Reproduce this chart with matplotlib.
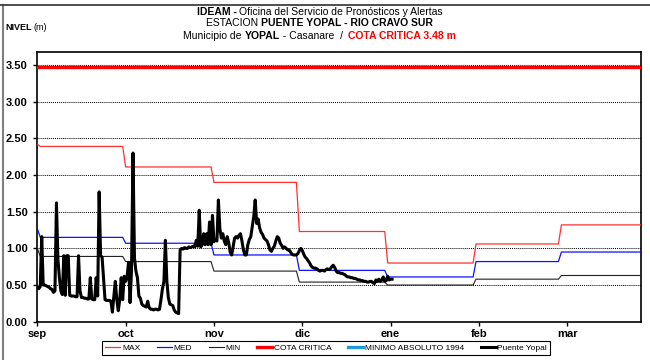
import numpy as np
import matplotlib
matplotlib.use('Agg')
import matplotlib.pyplot as plt
from matplotlib.lines import Line2D

plt.rcParams['font.family'] = ['Liberation Sans', 'DejaVu Sans']

# eje x: marcas cada 30 dias contados desde el 1 de septiembre
meses = ['sep', 'oct', 'nov', 'dic', 'ene', 'feb', 'mar']
dias_por_marca = 30
dias_total = 205

# niveles de referencia: dia en que empieza cada tramo y su valor (m)
inicio_tramo = [0, 1, 30, 60, 89, 119, 149, 178]
nivel_max = [2.42, 2.39, 2.11, 1.90, 1.23, 0.80, 1.06, 1.32]
nivel_med = [1.27, 1.15, 1.07, 0.91, 0.70, 0.61, 0.82, 0.95]
nivel_min = [1.00, 0.89, 0.82, 0.69, 0.54, 0.50, 0.58, 0.63]
cota_critica = 3.48

# lecturas de la estacion Puente Yopal, dos por dia desde el 1 de septiembre
lecturas_por_dia = 2
nivel_yopal = [
    0.47, 0.45, 0.48, 1.16, 0.50, 0.50, 0.49, 0.48, 0.47, 0.45,
    0.44, 0.40, 0.42, 1.62, 0.85, 0.60, 0.42, 0.37, 0.90, 0.36,
    0.90, 0.90, 0.36, 0.35, 0.35, 0.35, 0.34, 0.34, 0.90, 0.42,
    0.33, 0.33, 0.32, 0.32, 0.31, 0.31, 0.60, 0.31, 0.30, 0.30,
    0.60, 0.35, 1.77, 0.90, 0.88, 0.60, 0.30, 0.29, 0.29, 0.29,
    0.28, 0.13, 0.35, 0.55, 0.30, 0.15, 0.30, 0.60, 0.30, 0.62,
    0.55, 0.62, 0.81, 0.26, 0.70, 2.30, 0.87, 0.69, 0.60, 0.35,
    0.32, 0.24, 0.22, 0.21, 0.20, 0.28, 0.19, 0.17, 0.17, 0.16,
    0.17, 0.17, 0.16, 0.17, 0.30, 0.45, 0.55, 1.11, 0.55, 0.33,
    0.24, 0.23, 0.22, 0.16, 0.13, 0.12, 0.11, 0.98, 1.00, 0.99,
    1.01, 1.00, 1.00, 1.02, 1.01, 1.02, 1.03, 1.02, 1.11, 1.03,
    1.52, 1.02, 1.05, 1.20, 1.05, 1.20, 1.05, 1.36, 1.05, 1.45,
    1.09, 1.12, 1.10, 1.66, 1.27, 1.14, 1.20, 1.10, 1.05, 1.16,
    1.08, 0.95, 0.91, 1.02, 1.14, 1.16, 1.14, 1.18, 1.20, 1.10,
    0.98, 0.91, 0.91, 1.05, 1.12, 1.16, 1.30, 1.43, 1.66, 1.34,
    1.40, 1.28, 1.22, 1.19, 1.14, 1.12, 1.10, 1.05, 0.98, 0.96,
    1.00, 1.03, 1.10, 1.16, 1.14, 1.07, 1.04, 1.00, 1.02, 1.00,
    0.98, 0.98, 0.95, 0.92, 0.91, 0.91, 0.91, 0.93, 0.97, 1.00,
    0.97, 0.92, 0.88, 0.86, 0.83, 0.80, 0.76, 0.74, 0.73, 0.73,
    0.72, 0.70, 0.69, 0.70, 0.70, 0.69, 0.71, 0.72, 0.71, 0.72,
    0.75, 0.77, 0.74, 0.69, 0.67, 0.67, 0.66, 0.66, 0.65, 0.64,
    0.62, 0.61, 0.61, 0.60, 0.60, 0.59, 0.59, 0.58, 0.57, 0.57,
    0.56, 0.56, 0.55, 0.55, 0.54, 0.54, 0.55, 0.55, 0.53, 0.52,
    0.57, 0.55, 0.58, 0.55, 0.57, 0.61, 0.55, 0.56, 0.62, 0.57,
    0.58, 0.58,
]


def serie_escalonada(inicios, valores, dias):
    # valor diario de cada tramo mensual
    idx = np.searchsorted(inicios, dias, side='right') - 1
    return np.array(valores)[idx]


def texto_mixto(fig, y, partes, centro=0.492, size=7.5):
    # escribe una linea con trozos de distinto estilo, centrada en x=centro
    r = fig.canvas.get_renderer()
    piezas = []
    ancho = 0
    for txt, peso, color in partes:
        t = fig.text(0, y, txt, fontsize=size, fontweight=peso, color=color,
                     va='center', ha='left')
        w = t.get_window_extent(r).width
        piezas.append((t, w))
        ancho += w
    x = centro * fig.bbox.width - ancho / 2
    for t, w in piezas:
        t.set_x(x / fig.bbox.width)
        x += w


dias = np.arange(dias_total + 1)
serie_max = serie_escalonada(inicio_tramo, nivel_max, dias)
serie_med = serie_escalonada(inicio_tramo, nivel_med, dias)
serie_min = serie_escalonada(inicio_tramo, nivel_min, dias)
t_yopal = np.arange(len(nivel_yopal)) / lecturas_por_dia

fig = plt.figure(figsize=(6.5, 3.6), dpi=100)
ax = fig.add_axes([0.0574, 0.1064, 0.9286, 0.7496])

# rejilla punteada
for v in np.arange(0.5, 3.51, 0.5):
    ax.axhline(v, color='black', lw=0.7, ls=(0, (1, 1)), zorder=1)

ax.plot(dias, serie_max, color='#ff3030', lw=0.9, zorder=3)
ax.plot(dias, serie_med, color='#1010ff', lw=0.9, zorder=3)
ax.plot(dias, serie_min, color='#202020', lw=0.8, zorder=3)
ax.plot(dias, np.full(len(dias), cota_critica), color='#ff0000', lw=2.4, zorder=3)
ax.plot(t_yopal, nivel_yopal, color='black', lw=2.2, zorder=4,
        solid_joinstyle='round')

ax.set_xlim(0, dias_total)
ax.set_ylim(0, 3.68)
ax.set_xticks(np.arange(len(meses)) * dias_por_marca)
ax.set_xticklabels(meses, fontsize=8, fontweight='bold')
ax.set_yticks(np.arange(0, 3.51, 0.5))
ax.set_yticklabels([f'{v:.2f}' for v in np.arange(0, 3.51, 0.5)],
                   fontsize=8, fontweight='bold')
ax.tick_params(axis='both', direction='out', length=3, width=1)
ax.tick_params(axis='x', pad=2)
ax.tick_params(axis='y', pad=4)
for s in ax.spines.values():
    s.set_linewidth(1.2)
    s.set_color('black')

# titulos
texto_mixto(fig, 1 - 12 / 360, [('IDEAM - ', 'bold', 'black'),
                                 ('Oficina del Servicio de Pronósticos y Alertas', 'normal', 'black')])
texto_mixto(fig, 1 - 23.5 / 360, [('ESTACION ', 'normal', 'black'),
                                   ('PUENTE YOPAL - RIO CRAVO SUR', 'bold', 'black')])
texto_mixto(fig, 1 - 36 / 360, [('Municipio de ', 'normal', 'black'),
                                 ('YOPAL', 'bold', 'black'),
                                 (' - Casanare  /  ', 'normal', 'black'),
                                 ('COTA CRITICA 3.48 m', 'bold', 'red')])
fig.text(0.008, 1 - 28 / 360, 'NIVEL', fontsize=6.5, fontweight='bold', va='center')
fig.text(0.052, 1 - 28 / 360, '(m)', fontsize=6.5, va='center')

# marco de la hoja
fig.add_artist(Line2D([0.005, 0.005], [0, 0.985], color='#808080', lw=1.5,
                      transform=fig.transFigure))
fig.add_artist(Line2D([0, 1], [0.987, 0.987], color='#303030', lw=1.2,
                      transform=fig.transFigure))

manejadores = [
    Line2D([], [], color='#ff3030', lw=0.9),
    Line2D([], [], color='#1010ff', lw=0.9),
    Line2D([], [], color='#202020', lw=0.8),
    Line2D([], [], color='#ff0000', lw=2.4),
    Line2D([], [], color='#1e9bd7', lw=2.4),
    Line2D([], [], color='black', lw=2.2),
]
etiquetas = ['MAX', 'MED', 'MIN', 'COTA CRITICA', 'MINIMO ABSOLUTO 1994', 'Puente Yopal']
leg = fig.legend(manejadores, etiquetas, loc='center', bbox_to_anchor=(0.502, 0.033),
                 ncol=6, fontsize=6, frameon=True, fancybox=False, framealpha=1,
                 edgecolor='black', handlelength=1.8, handletextpad=0.2,
                 columnspacing=2.0, borderpad=0.35)
leg.get_frame().set_linewidth(0.8)

fig.savefig('out.png', dpi=100)
